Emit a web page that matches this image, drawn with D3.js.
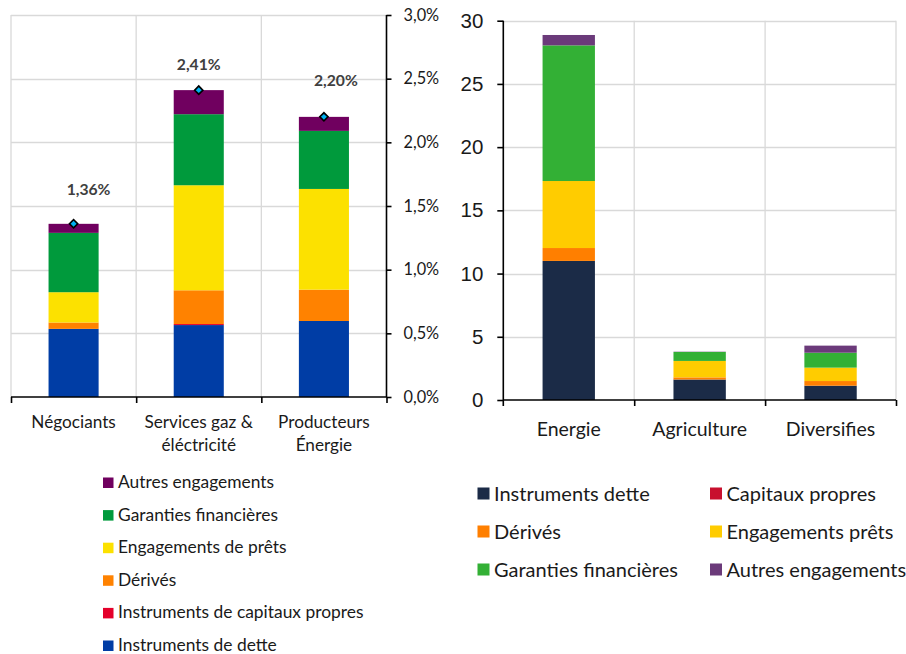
<!DOCTYPE html>
<html>
<head>
<meta charset="utf-8">
<script src="https://cdn.jsdelivr.net/npm/d3@7"></script>
<style>
  html, body { margin: 0; padding: 0; background: #fff; }
  svg { display: block; font-family: Lato, "Open Sans", sans-serif; }
</style>
</head>
<body>
<svg id="chart" width="906" height="654"></svg>
<script>
// ---------- Left chart data (% of exposures) ----------
const leftCategories = ["Négociants", "Services gaz & éléctricité", "Producteurs Énergie"];
const leftCategoryLines = [["Négociants"], ["Services gaz &", "éléctricité"], ["Producteurs", "Énergie"]];
const leftSeriesNames = ["Instruments de dette", "Instruments de capitaux propres", "Dérivés",
  "Engagements de prêts", "Garanties financières", "Autres engagements"];
const leftDette = [0.535, 0.565, 0.597];
const leftCapitaux = [0.0, 0.008, 0.0];
const leftDerives = [0.05, 0.265, 0.246];
const leftEngagements = [0.238, 0.825, 0.791];
const leftGaranties = [0.466, 0.558, 0.456];
const leftAutres = [0.071, 0.189, 0.11];
const leftTotals = [1.36, 2.41, 2.20];
const leftTicks = [0, 0.5, 1.0, 1.5, 2.0, 2.5, 3.0];

// ---------- Right chart data ----------
const rightCategories = ["Energie", "Agriculture", "Diversifies"];
const rightSeriesNames = ["Instruments dette", "Capitaux propres", "Dérivés",
  "Engagements prêts", "Garanties financières", "Autres engagements"];
const rightDette = [11.0, 1.62, 1.13];
const rightCapitaux = [0.0, 0.0, 0.0];
const rightDerives = [1.02, 0.17, 0.37];
const rightEngagements = [5.3, 1.3, 1.06];
const rightGaranties = [10.73, 0.71, 1.18];
const rightAutres = [0.82, 0.02, 0.56];
const rightTicks = [0, 5, 10, 15, 20, 25, 30];

// ---------- Layout / styles ----------
const totalLabelNudge = [[15, -29], [0, -20], [12, -31]]; // manual label placement (px, relative to marker)
const leftColors = ["#003DA5", "#E4002B", "#FF8200", "#FCE100", "#009A3C", "#70005F"];
const rightColors = ["#1B2B47", "#C8102E", "#FF7F00", "#FFCC00", "#33B035", "#6B3A7A"];
const gridColor = "#D9D9D9";
const textColor = "#1a1a1a";

const svg = d3.select("#chart");

function buildRows(cats, arrays) {
  return cats.map((c, i) => {
    const row = { cat: c };
    arrays.forEach((a, k) => row["s" + k] = a[i]);
    return row;
  });
}
const keys = d3.range(6).map(k => "s" + k);

// =================== LEFT CHART ===================
{
  const x = d3.scaleBand().domain(leftCategories).range([11, 386.5]).padding(0);
  const y = d3.scaleLinear().domain([0, 3]).range([397, 15]);
  const g = svg.append("g");

  g.selectAll(".hg").data(leftTicks.filter(t => t > 0)).join("line")
    .attr("x1", 11).attr("x2", 386.5)
    .attr("y1", d => Math.round(y(d)) + 0.5).attr("y2", d => Math.round(y(d)) + 0.5)
    .attr("stroke", gridColor).attr("stroke-width", 1.3);
  g.selectAll(".vg").data(leftCategories).join("line")
    .attr("x1", d => x(d)).attr("x2", d => x(d))
    .attr("y1", 15).attr("y2", 397)
    .attr("stroke", gridColor).attr("stroke-width", 1.3);

  const rows = buildRows(leftCategories, [leftDette, leftCapitaux, leftDerives, leftEngagements, leftGaranties, leftAutres]);
  const stack = d3.stack().keys(keys)(rows);
  const bw = x.bandwidth() * 0.4;
  g.selectAll(".ser").data(stack).join("g")
    .attr("fill", (d, i) => leftColors[i])
    .selectAll("rect").data(d => d).join("rect")
    .attr("x", d => x(d.data.cat) + (x.bandwidth() - bw) / 2)
    .attr("width", bw)
    .attr("y", d => y(d[1]))
    .attr("height", d => Math.max(0, y(d[0]) - y(d[1])));

  const yAxis = d3.axisRight(y).tickValues(leftTicks).tickSize(5).tickPadding(12)
    .tickFormat(d => d3.format(".1f")(d).replace(".", ",") + "%");
  const ya = g.append("g").attr("transform", "translate(386.5,0)").call(yAxis);
  ya.select(".domain").attr("stroke", "#000").attr("stroke-width", 1.6).attr("d", "M0,15V397");
  ya.selectAll(".tick line").attr("stroke", "#000").attr("stroke-width", 1.6);
  ya.selectAll("text").attr("font-size", 16.3).attr("fill", textColor).attr("font-family", "Lato");

  const bx = d3.scaleLinear().domain([0, 3]).range([11, 386.5]);
  const xAxis = d3.axisBottom(bx).tickValues([0, 1, 2, 3]).tickSize(6).tickFormat("");
  const xa = g.append("g").attr("transform", "translate(0,397)").call(xAxis);
  xa.select(".domain").attr("stroke", "#000").attr("stroke-width", 1.6).attr("d", "M11,0H386.5");
  xa.selectAll(".tick line").attr("stroke", "#000").attr("stroke-width", 1.6);

  g.selectAll(".cl").data(leftCategories).join("text")
    .attr("text-anchor", "middle").attr("font-size", 17.2).attr("fill", textColor)
    .attr("x", d => x(d) + x.bandwidth() / 2)
    .attr("y", 428)
    .selectAll("tspan").data((d, i) => leftCategoryLines[i]).join("tspan")
    .attr("x", function () { return d3.select(this.parentNode).attr("x"); })
    .attr("dy", (d, i) => i === 0 ? 0 : 22.5)
    .text(d => d);

  const cx = d => x(d) + x.bandwidth() / 2;
  g.selectAll(".mk").data(leftCategories).join("path")
    .attr("d", d3.symbol(d3.symbolSquare, 34)())
    .attr("transform", (d, i) => `translate(${cx(d)},${y(leftTotals[i])}) rotate(45)`)
    .attr("fill", "#00B0F0").attr("stroke", "#000").attr("stroke-width", 1.6);
  g.selectAll(".tl").data(leftCategories).join("text")
    .attr("text-anchor", "middle").attr("font-size", 15.7).attr("font-weight", "bold")
    .attr("fill", "#404040")
    .attr("x", (d, i) => cx(d) + totalLabelNudge[i][0])
    .attr("y", (d, i) => y(leftTotals[i]) + totalLabelNudge[i][1])
    .text((d, i) => d3.format(".2f")(leftTotals[i]).replace(".", ",") + "%");

  const lg = g.append("g");
  const order = d3.range(6).reverse();
  order.forEach((k, r) => {
    const yy = 482.5 + r * 32.6;
    lg.append("rect").attr("x", 103).attr("y", yy - 5).attr("width", 10.5).attr("height", 10.5)
      .attr("fill", leftColors[k]);
    lg.append("text").attr("x", 118).attr("y", yy + 5.5).attr("font-size", 17.4)
      .attr("fill", textColor).text(leftSeriesNames[k]);
  });
}

// =================== RIGHT CHART ===================
{
  const x0 = 503.3, x1 = 896, yb = 400, yt = 20.7;
  const x = d3.scaleBand().domain(rightCategories).range([x0, x1]).padding(0);
  const y = d3.scaleLinear().domain([0, 30]).range([yb, yt]);
  const g = svg.append("g");

  g.selectAll(".hg").data(rightTicks.filter(t => t > 0)).join("line")
    .attr("x1", x0).attr("x2", x1)
    .attr("y1", d => Math.round(y(d)) + 0.5).attr("y2", d => Math.round(y(d)) + 0.5)
    .attr("stroke", gridColor).attr("stroke-width", 1.3);
  g.selectAll(".vg").data(rightCategories).join("line")
    .attr("x1", d => x(d) + x.bandwidth()).attr("x2", d => x(d) + x.bandwidth())
    .attr("y1", yt).attr("y2", yb)
    .attr("stroke", gridColor).attr("stroke-width", 1.3);

  const rows = buildRows(rightCategories, [rightDette, rightCapitaux, rightDerives, rightEngagements, rightGaranties, rightAutres]);
  const stack = d3.stack().keys(keys)(rows);
  const bw = x.bandwidth() * 0.4;
  g.selectAll(".ser").data(stack).join("g")
    .attr("fill", (d, i) => rightColors[i])
    .selectAll("rect").data(d => d).join("rect")
    .attr("x", d => x(d.data.cat) + (x.bandwidth() - bw) / 2)
    .attr("width", bw)
    .attr("y", d => y(d[1]))
    .attr("height", d => Math.max(0, y(d[0]) - y(d[1])));

  const yAxis = d3.axisLeft(y).tickValues(rightTicks).tickSize(6).tickPadding(14);
  const ya = g.append("g").attr("transform", `translate(${x0},0)`).call(yAxis);
  ya.select(".domain").attr("stroke", "#000").attr("stroke-width", 1.6).attr("d", `M0,${yt}V${yb + 6}`);
  ya.selectAll(".tick line").attr("stroke", "#000").attr("stroke-width", 1.6);
  ya.selectAll("text").attr("font-size", 20.5).attr("fill", textColor);

  const bx = d3.scaleLinear().domain([0, 3]).range([x0, x1]);
  const xa = g.append("g").attr("transform", `translate(0,${yb})`)
    .call(d3.axisBottom(bx).tickValues([1, 2, 3]).tickSize(6).tickFormat(""));
  xa.select(".domain").attr("stroke", "#000").attr("stroke-width", 1.6).attr("d", `M${x0},0H${x1}`);
  xa.selectAll(".tick line").attr("stroke", "#000").attr("stroke-width", 1.6);

  g.selectAll(".cl").data(rightCategories).join("text")
    .attr("text-anchor", "middle").attr("font-size", 19.5).attr("fill", textColor)
    .attr("x", d => x(d) + x.bandwidth() / 2).attr("y", 436).text(d => d);

  const lg = g.append("g");
  rightSeriesNames.forEach((name, k) => {
    const col = k % 2, row = Math.floor(k / 2);
    const lx = col === 0 ? 477.5 : 710;
    const yy = 493.5 + row * 38;
    lg.append("rect").attr("x", lx).attr("y", yy - 6).attr("width", 12).attr("height", 12)
      .attr("fill", rightColors[k]);
    lg.append("text").attr("x", lx + 16.5).attr("y", yy + 7).attr("font-size", 20)
      .attr("fill", textColor).text(name);
  });
}
</script>
</body>
</html>
